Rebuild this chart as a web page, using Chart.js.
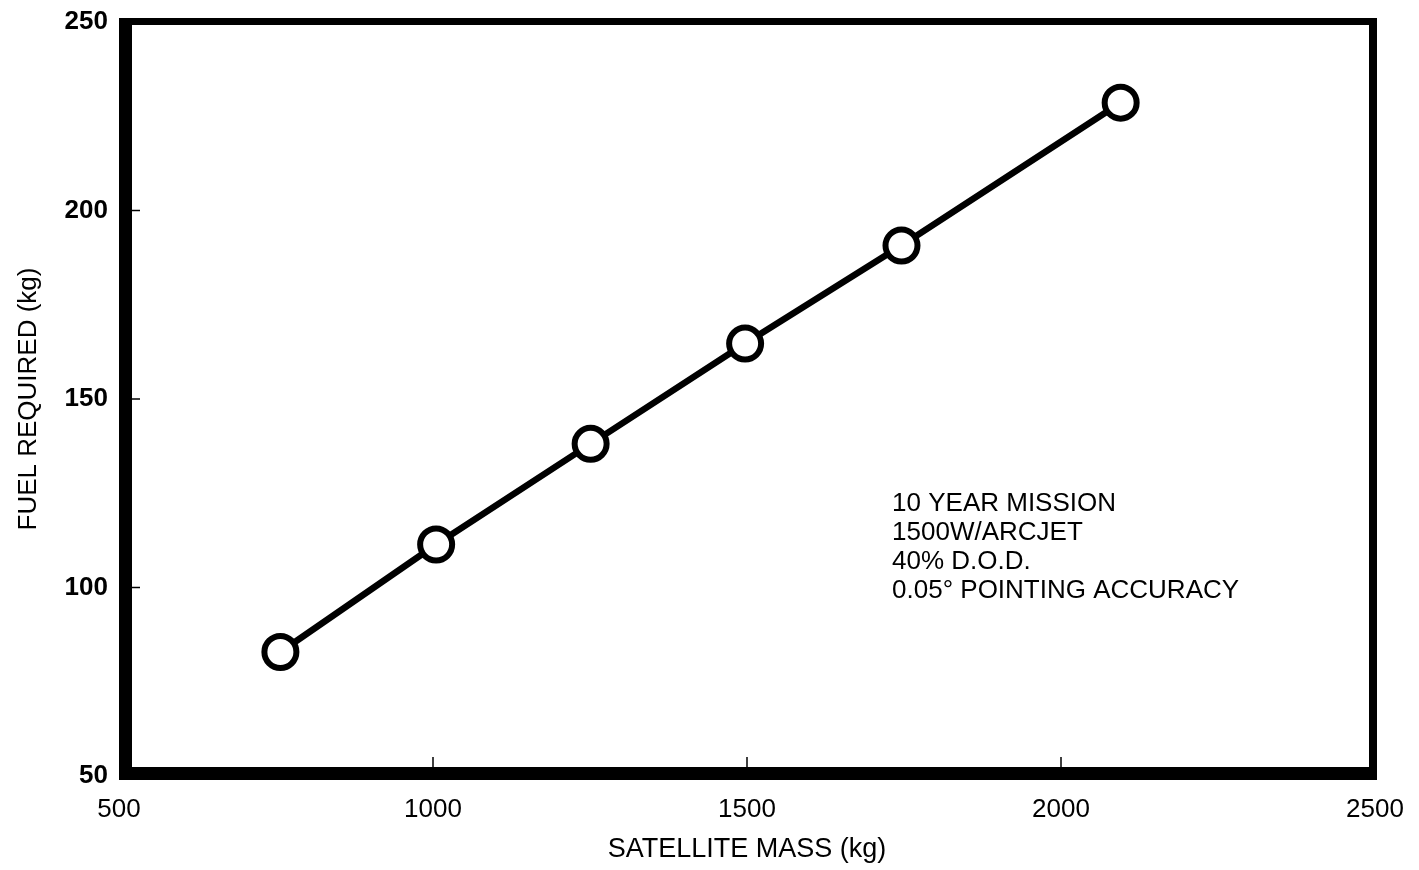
<!DOCTYPE html>
<html>
<head>
<meta charset="utf-8">
<script src="https://cdn.jsdelivr.net/npm/chart.js@4"></script>
<style>
  html, body { margin: 0; padding: 0; background: #ffffff; }
  #wrap { width: 1419px; height: 870px; }
</style>
</head>
<body>
<div id="wrap"><canvas id="c" width="1419" height="870"></canvas></div>
<script>
// ---- data ----
const satelliteMass = [757, 1005, 1251, 1497, 1746, 2095];   // kg
const fuelRequired  = [82.9, 111.4, 138.1, 164.7, 190.7, 228.6]; // kg
const xTickValues = [500, 1000, 1500, 2000, 2500];
const yTickValues = [50, 100, 150, 200, 250];
const xTitle = 'SATELLITE MASS (kg)';
const yTitle = 'FUEL REQUIRED (kg)';
const noteLines = ['10 YEAR MISSION', '1500W/ARCJET', '40% D.O.D.', '0.05\u00B0 POINTING ACCURACY'];
const noteAnchor = { x: 1731, y: 122.2 }; // in data units

const FONT = '"Liberation Sans", Arial, Helvetica, sans-serif';

const points = satelliteMass.map((m, i) => ({ x: m, y: fuelRequired[i] }));

const framePlugin = {
  id: 'frame',
  afterDraw(chart) {
    const { ctx, chartArea: a, scales } = chart;
    ctx.save();
    ctx.fillStyle = '#000';
    // thick left & bottom, thinner top & right (as in the scan)
    ctx.fillRect(a.left, a.top - 4, 13, a.bottom - a.top + 8);          // left
    ctx.fillRect(a.left, a.bottom - 9, a.right - a.left + 2, 13);       // bottom
    ctx.fillRect(a.left, a.top - 4, a.right - a.left + 2, 7);           // top
    ctx.fillRect(a.right - 6, a.top - 4, 8, a.bottom - a.top + 8);      // right
    // inward tick marks
    ctx.strokeStyle = '#000';
    ctx.lineWidth = 1.5;
    xTickValues.slice(1, -1).forEach(v => {
      const px = scales.x.getPixelForValue(v);
      ctx.beginPath();
      ctx.moveTo(px, a.bottom - 9);
      ctx.lineTo(px, a.bottom - 19);
      ctx.stroke();
    });
    yTickValues.slice(1, -1).forEach(v => {
      const py = scales.y.getPixelForValue(v);
      ctx.beginPath();
      ctx.moveTo(a.left + 13, py);
      ctx.lineTo(a.left + 21, py);
      ctx.stroke();
    });
    // annotation text
    ctx.fillStyle = '#000';
    ctx.font = '26px ' + FONT;
    ctx.textAlign = 'left';
    ctx.textBaseline = 'middle';
    const nx = scales.x.getPixelForValue(noteAnchor.x);
    const ny = scales.y.getPixelForValue(noteAnchor.y);
    noteLines.forEach((t, i) => ctx.fillText(t, nx, ny + i * 29));
    ctx.restore();
  }
};

new Chart(document.getElementById('c'), {
  type: 'line',
  data: {
    datasets: [{
      data: points,
      borderColor: '#000',
      borderWidth: 6.5,
      backgroundColor: '#fff',
      pointBackgroundColor: '#fff',
      pointBorderColor: '#000',
      pointBorderWidth: 6,
      pointRadius: 16,
      pointHoverRadius: 16,
      tension: 0,
      fill: false,
      clip: false
    }]
  },
  options: {
    responsive: false,
    animation: false,
    events: [],
    layout: { padding: { top: 20, right: 44, bottom: 0, left: 0 } },
    plugins: { legend: { display: false }, tooltip: { enabled: false } },
    scales: {
      x: {
        type: 'linear',
        min: 500, max: 2500,
        afterBuildTicks: s => { s.ticks = xTickValues.map(v => ({ value: v })); },
        afterFit: s => { s.height = 94; s.paddingLeft = 0; s.paddingRight = 0; },
        grid: { display: false, drawTicks: false },
        border: { display: false },
        ticks: { color: '#000', padding: 18, maxRotation: 0, callback: v => String(v), font: { family: FONT, size: 26 } },
        title: { display: true, text: xTitle, color: '#000', padding: { top: 0, bottom: 4 }, font: { family: FONT, size: 27 } }
      },
      y: {
        type: 'linear',
        min: 50, max: 250,
        afterBuildTicks: s => { s.ticks = yTickValues.map(v => ({ value: v })); },
        afterFit: s => { s.width = 119; s.paddingTop = 0; s.paddingBottom = 0; },
        grid: { display: false, drawTicks: false },
        border: { display: false },
        ticks: { color: '#000', padding: 11, callback: v => String(v), font: { family: FONT, size: 26, weight: 'bold' } },
        title: { display: true, text: yTitle, color: '#000', padding: { top: 13, bottom: 0 }, font: { family: FONT, size: 26 } }
      }
    }
  },
  plugins: [framePlugin]
});
</script>
</body>
</html>
